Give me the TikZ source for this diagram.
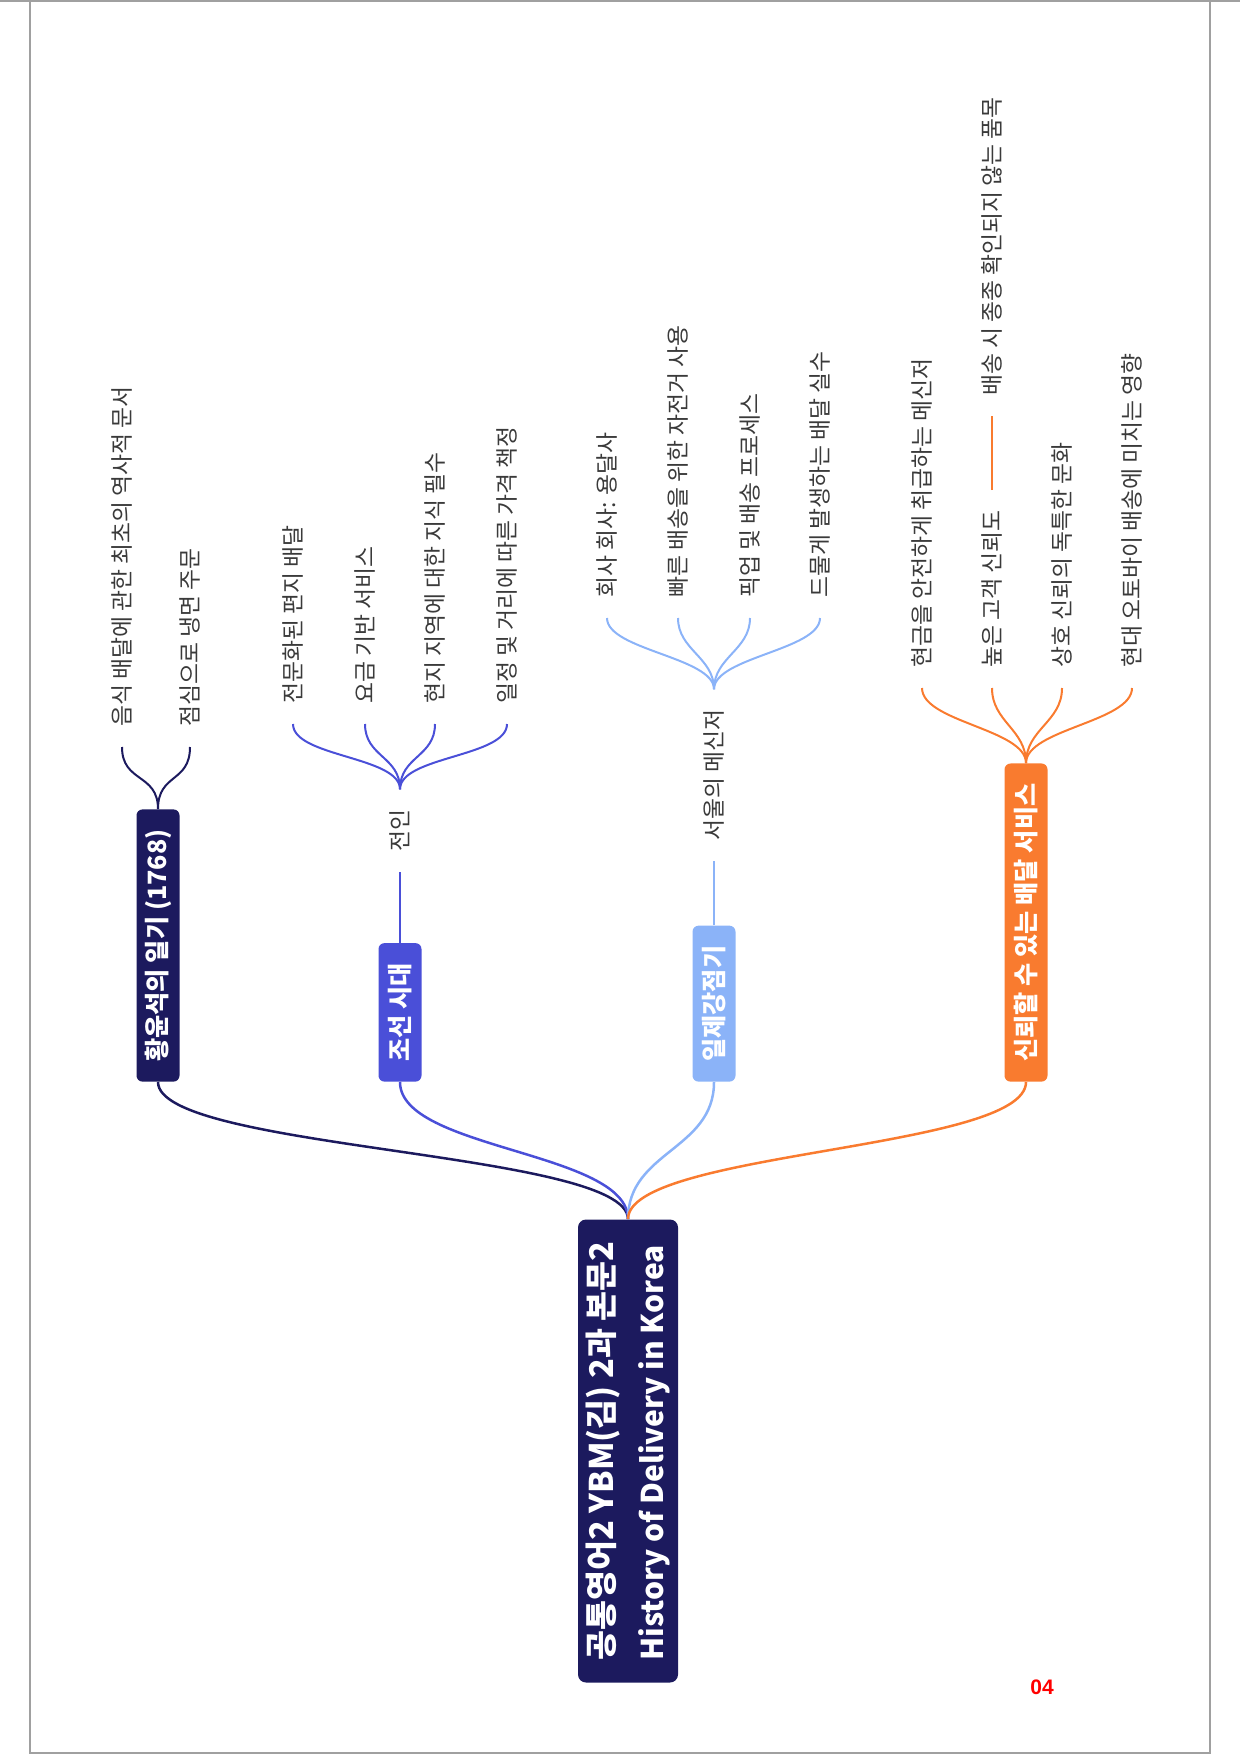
\documentclass[tikz,border=0pt]{standalone}
\usepackage{fontspec}
\newfontfamily\kr{Noto Sans CJK KR}
\newfontfamily\lat{Liberation Sans}
\definecolor{navy}{HTML}{1C1A5E}
\definecolor{bluec}{HTML}{4A4FD8}
\definecolor{lightb}{HTML}{8BB3F8}
\definecolor{orangec}{HTML}{F97B2F}
\definecolor{leafgray}{HTML}{3A3A3A}
\definecolor{framegray}{HTML}{A0A0A0}
\begin{document}
\begin{tikzpicture}[x=0.5pt,y=-0.5pt,
  leaf/.style={rotate=90, anchor=west, inner xsep=10pt, inner ysep=1pt,
    font=\kr\fontsize{11.4pt}{13pt}\selectfont, text=leafgray},
  lonebox/.style={rotate=90, anchor=west, rounded corners=3pt, inner xsep=10pt,
    minimum height=21.5pt, font=\kr\bfseries\fontsize{12.6pt}{14pt}\selectfont, text=white},
  rootbox/.style={rotate=90, rounded corners=4pt, fill=navy, text=white, align=left,
    minimum width=231.5pt, minimum height=50pt,
    font=\kr\bfseries\fontsize{16.3pt}{25pt}\selectfont},
  mainline/.style={line width=1.25pt},
  subline/.style={line width=1pt},
]
\useasboundingbox (0,0) rectangle (1240,1754);
\draw[framegray, line width=0.75pt] (30,1) rectangle (1210,1753);
\draw[framegray, line width=0.75pt] (0,1) -- (1240,1);

% root
\node[rootbox] (root) at (628,1451) {공통영어2 YBM(김) 2과 본문2\\{\fontsize{15pt}{25pt}\selectfont History of Delivery in Korea}};

% level 1
\node[lonebox, fill=navy] (b1) at (158,1082) {황윤석의 일기 (1768)};
\node[lonebox, fill=bluec] (b2) at (400,1082) {조선 시대};
\node[lonebox, fill=lightb] (b3) at (714,1082) {일제강점기};
\node[lonebox, fill=orangec] (b4) at (1026,1082) {신뢰할 수 있는 배달 서비스};

\draw[mainline, navy] (root.east) .. controls +(0,-68) and +(0,68) .. (b1.west);
\draw[mainline, bluec] (root.east) .. controls +(0,-68) and +(0,68) .. (b2.west);
\draw[mainline, lightb] (root.east) .. controls +(0,-68) and +(0,68) .. (b3.west);
\draw[mainline, orangec] (root.east) .. controls +(0,-68) and +(0,68) .. (b4.west);

% branch 1
\node[leaf] (a1) at (122,747) {음식 배달에 관한 최초의 역사적 문서};
\node[leaf] (a2) at (190,747) {점심으로 냉면 주문};
\foreach \n in {a1,a2}
  \draw[subline, navy] (b1.east) .. controls +(0,-36) and +(0,36) .. (\n.west);

% branch 2
\node[leaf] (jn) at (400,872) {전인};
\draw[subline, bluec] (b2.east) -- (jn.west);
\node[leaf] (c1) at (293,724) {전문화된 편지 배달};
\node[leaf] (c2) at (365,724) {요금 기반 서비스};
\node[leaf] (c3) at (435,724) {현지 지역에 대한 지식 필수};
\node[leaf] (c4) at (507,724) {일정 및 거리에 따른 가격 책정};
\foreach \n in {c1,c2,c3,c4}
  \draw[subline, bluec] (jn.east) .. controls +(0,-33) and +(0,33) .. (\n.west);

% branch 3
\node[leaf] (sm) at (714,861) {서울의 메신저};
\draw[subline, lightb] (b3.east) -- (sm.west);
\node[leaf] (d1) at (607,618) {회사 회사: 용달사};
\node[leaf] (d2) at (678,618) {빠른 배송을 위한 자전거 사용};
\node[leaf] (d3) at (750,618) {픽업 및 배송 프로세스};
\node[leaf] (d4) at (820,618) {드물게 발생하는 배달 실수};
\foreach \n in {d1,d2,d3,d4}
  \draw[subline, lightb] (sm.east) .. controls +(0,-32) and +(0,32) .. (\n.west);

% branch 4
\node[leaf] (e1) at (922,688) {현금을 안전하게 취급하는 메신저};
\node[leaf] (e2) at (992,688) {높은 고객 신뢰도};
\node[leaf] (e3) at (1062,688) {상호 신뢰의 독특한 문화};
\node[leaf] (e4) at (1132,688) {현대 오토바이 배송에 미치는 영향};
\foreach \n in {e1,e2,e3,e4}
  \draw[subline, orangec] (b4.east) .. controls +(0,-34) and +(0,34) .. (\n.west);
\node[leaf] (e5) at (992,416) {배송 시 종종 확인되지 않는 품목};
\draw[subline, orangec] (e2.east) -- (e5.west);

% page number
\node[font=\lat\bfseries\fontsize{10.5pt}{12pt}\selectfont, text=red] (pg) at (1042,1687) {04};
\end{tikzpicture}
\end{document}
